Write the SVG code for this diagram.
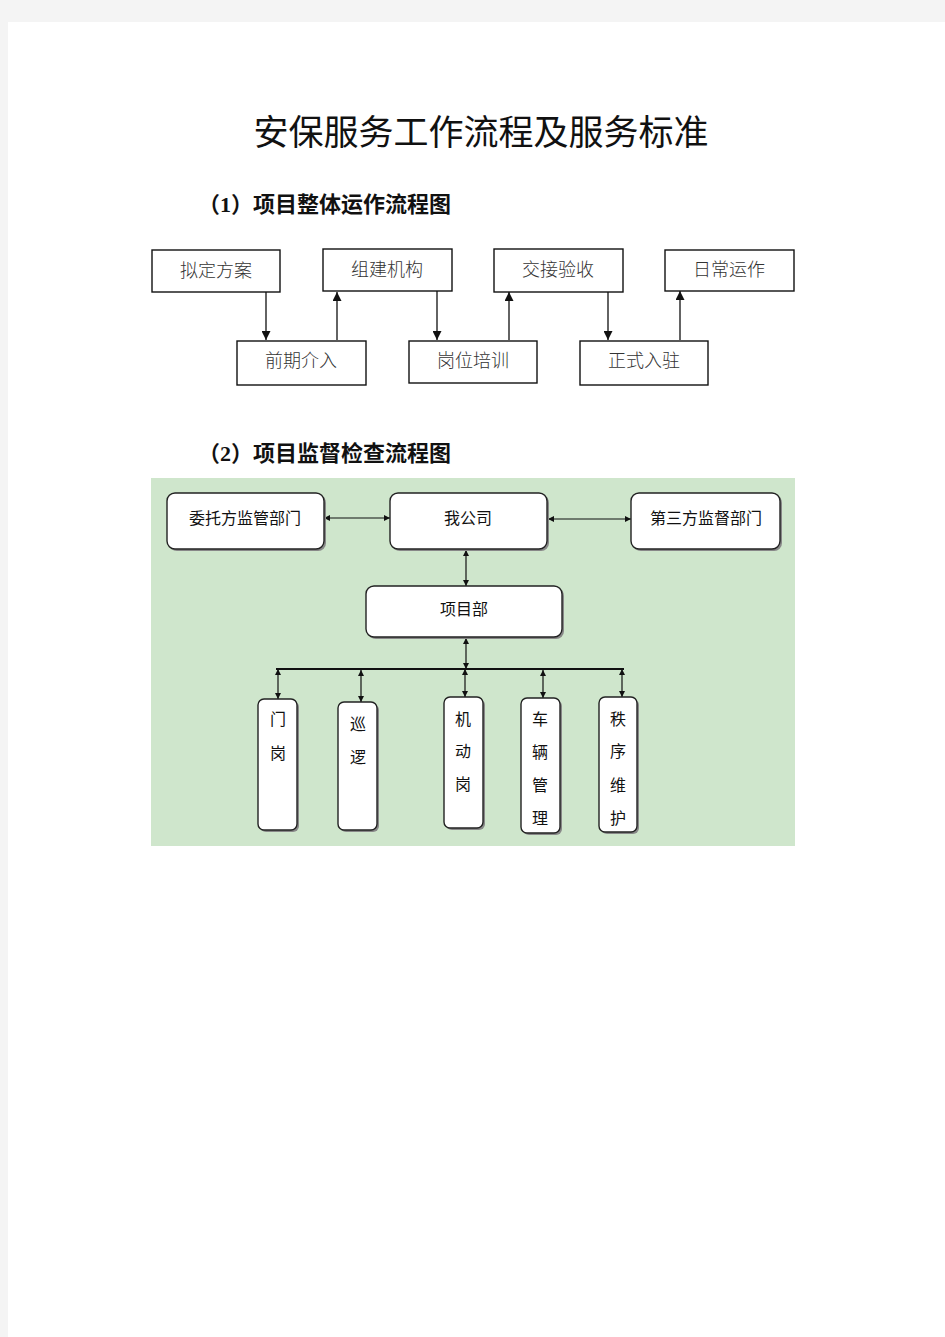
<svg xmlns="http://www.w3.org/2000/svg" width="945" height="1337" viewBox="0 0 945 1337">
<style>
.title{font-family:"Liberation Serif","Noto Sans CJK SC",serif;font-size:35px;fill:#111;}
.sub{font-family:"Liberation Serif","Noto Sans CJK SC",serif;font-size:22px;font-weight:bold;fill:#111;}
.b1{fill:#fff;stroke:#111;stroke-width:1.4;}
.t1{font-family:"Noto Sans CJK SC",sans-serif;font-size:18px;font-weight:300;fill:#333;text-anchor:middle;}
.c1{stroke:#222;stroke-width:1.4;fill:none;}
.b2{fill:#fff;stroke:#222;stroke-width:1.4;}
.sh{fill:#888;}
.t2{font-family:"Noto Sans CJK SC",sans-serif;font-size:16px;fill:#111;text-anchor:middle;}
.c2{stroke:#111;stroke-width:1.2;fill:none;}
</style>
<defs>
<marker id="a1" viewBox="0 0 10 10" refX="10" refY="5" markerWidth="9" markerHeight="9" markerUnits="userSpaceOnUse" orient="auto"><path d="M0,0L10,5L0,10z" fill="#111"/></marker>
<marker id="a2" viewBox="0 0 10 10" refX="10" refY="5" markerWidth="6" markerHeight="6" markerUnits="userSpaceOnUse" orient="auto-start-reverse"><path d="M0,0L10,5L0,10z" fill="#111"/></marker>
</defs>
<rect width="945" height="1337" fill="#f4f4f4"/>
<rect x="8" y="22" width="937" height="1315" fill="#fff"/>
<text class="title" x="481" y="145" text-anchor="middle">安保服务工作流程及服务标准</text>
<text class="sub" x="198" y="212">（1）项目整体运作流程图</text>
<text class="sub" x="198" y="461">（2）项目监督检查流程图</text>

<g id="chart1-connectors">
<line class="c1" x1="266" y1="292" x2="266" y2="340" marker-end="url(#a1)"/>
<line class="c1" x1="337" y1="340" x2="337" y2="292" marker-end="url(#a1)"/>
<line class="c1" x1="437" y1="291" x2="437" y2="340" marker-end="url(#a1)"/>
<line class="c1" x1="509" y1="340" x2="509" y2="292" marker-end="url(#a1)"/>
<line class="c1" x1="608" y1="292" x2="608" y2="340" marker-end="url(#a1)"/>
<line class="c1" x1="680" y1="340" x2="680" y2="291" marker-end="url(#a1)"/>
</g>
<g id="n1"><rect class="b1" x="152" y="250" width="128" height="42"/><text class="t1" x="216" y="277">拟定方案</text></g>
<g id="n2"><rect class="b1" x="323" y="249" width="129" height="42"/><text class="t1" x="387" y="276">组建机构</text></g>
<g id="n3"><rect class="b1" x="494" y="249" width="129" height="43"/><text class="t1" x="558" y="276">交接验收</text></g>
<g id="n4"><rect class="b1" x="665" y="250" width="129" height="41"/><text class="t1" x="729" y="276">日常运作</text></g>
<g id="n5"><rect class="b1" x="237" y="341" width="129" height="44"/><text class="t1" x="301" y="367">前期介入</text></g>
<g id="n6"><rect class="b1" x="409" y="341" width="128" height="42"/><text class="t1" x="473" y="367">岗位培训</text></g>
<g id="n7"><rect class="b1" x="580" y="341" width="128" height="44"/><text class="t1" x="644" y="367">正式入驻</text></g>

<rect x="151" y="478" width="644" height="368" fill="#cfe6cc"/>
<g id="chart2-connectors">
<line class="c2" x1="324" y1="518" x2="390" y2="518" marker-start="url(#a2)" marker-end="url(#a2)"/>
<line class="c2" x1="548" y1="519" x2="631" y2="519" marker-start="url(#a2)" marker-end="url(#a2)"/>
<line class="c2" x1="466" y1="550" x2="466" y2="586" marker-start="url(#a2)" marker-end="url(#a2)"/>
<line class="c2" x1="466" y1="638" x2="466" y2="669" marker-start="url(#a2)" marker-end="url(#a2)"/>
<line stroke="#111" stroke-width="2" x1="276" y1="669" x2="624" y2="669"/>
<line class="c2" x1="278" y1="669" x2="278" y2="699" marker-start="url(#a2)" marker-end="url(#a2)"/>
<line class="c2" x1="361" y1="670" x2="361" y2="702" marker-start="url(#a2)" marker-end="url(#a2)"/>
<line class="c2" x1="465" y1="669" x2="465" y2="697" marker-start="url(#a2)" marker-end="url(#a2)"/>
<line class="c2" x1="543" y1="670" x2="543" y2="698" marker-start="url(#a2)" marker-end="url(#a2)"/>
<line class="c2" x1="622" y1="669" x2="622" y2="697" marker-start="url(#a2)" marker-end="url(#a2)"/>
</g>
<g id="m1"><rect class="sh" x="169" y="495" width="157" height="56" rx="8"/><rect class="b2" x="167" y="493" width="157" height="56" rx="8"/><text class="t2" x="245" y="524">委托方监管部门</text></g>
<g id="m2"><rect class="sh" x="392" y="495" width="157" height="56" rx="8"/><rect class="b2" x="390" y="493" width="157" height="56" rx="8"/><text class="t2" x="468" y="524">我公司</text></g>
<g id="m3"><rect class="sh" x="633" y="495" width="149" height="56" rx="8"/><rect class="b2" x="631" y="493" width="149" height="56" rx="8"/><text class="t2" x="706" y="524">第三方监督部门</text></g>
<g id="m4"><rect class="sh" x="368" y="588" width="196" height="51" rx="8"/><rect class="b2" x="366" y="586" width="196" height="51" rx="8"/><text class="t2" x="464" y="615">项目部</text></g>
<g id="p1"><rect class="sh" x="260" y="701" width="39" height="131" rx="6"/><rect class="b2" x="258" y="699" width="39" height="131" rx="6"/><text class="t2" x="278" y="725">门</text><text class="t2" x="278" y="759">岗</text></g>
<g id="p2"><rect class="sh" x="340" y="704" width="39" height="128" rx="6"/><rect class="b2" x="338" y="702" width="39" height="128" rx="6"/><text class="t2" x="358" y="730">巡</text><text class="t2" x="358" y="763">逻</text></g>
<g id="p3"><rect class="sh" x="446" y="699" width="39" height="131" rx="6"/><rect class="b2" x="444" y="697" width="39" height="131" rx="6"/><text class="t2" x="463" y="725">机</text><text class="t2" x="463" y="757">动</text><text class="t2" x="463" y="790">岗</text></g>
<g id="p4"><rect class="sh" x="523" y="700" width="39" height="135" rx="6"/><rect class="b2" x="521" y="698" width="39" height="135" rx="6"/><text class="t2" x="540" y="725">车</text><text class="t2" x="540" y="758">辆</text><text class="t2" x="540" y="791">管</text><text class="t2" x="540" y="824">理</text></g>
<g id="p5"><rect class="sh" x="601" y="699" width="38" height="135" rx="6"/><rect class="b2" x="599" y="697" width="38" height="135" rx="6"/><text class="t2" x="618" y="725">秩</text><text class="t2" x="618" y="757">序</text><text class="t2" x="618" y="791">维</text><text class="t2" x="618" y="824">护</text></g>
</svg>
